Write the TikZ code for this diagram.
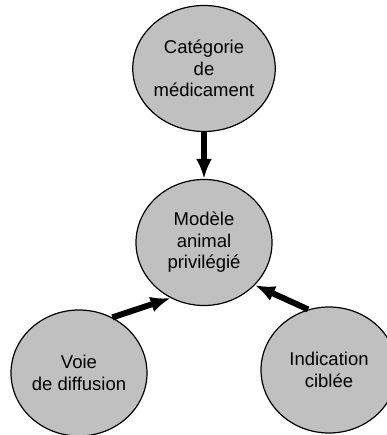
\documentclass[tikz,border=0pt]{standalone}
\usepackage{fontspec}
\setmainfont{Liberation Sans}
\usetikzlibrary{shapes.geometric,arrows.meta}
\definecolor{bubblegray}{RGB}{192,192,192}
\tikzset{
  bubble/.style={ellipse, draw=black, line width=1.2pt, fill=bubblegray,
    minimum width=136pt, minimum height=126pt, inner sep=0pt,
    align=center, font=\fontsize{18.5}{21.5}\selectfont},
  link/.style={line width=6pt, -{Latex[length=20pt,width=16pt]}}
}
\begin{document}
\begin{tikzpicture}[x=1pt,y=1pt]
\useasboundingbox (0,0) rectangle (386,435);
\node[bubble] (cat) at (204,366.5) {Catégorie\\de\\médicament};
\node[bubble] (mod) at (204,192.5) {Modèle\\animal\\privilégié};
\node[bubble] (voie) at (79,62) {Voie\\de diffusion};
\node[bubble] (ind) at (329,65) {Indication\\ciblée};
\draw[link] (cat.south) -- (mod.north);
\draw[link] (voie.59) -- (mod.-121);
\draw[link] (ind.109) -- (mod.-40);
\end{tikzpicture}
\end{document}
